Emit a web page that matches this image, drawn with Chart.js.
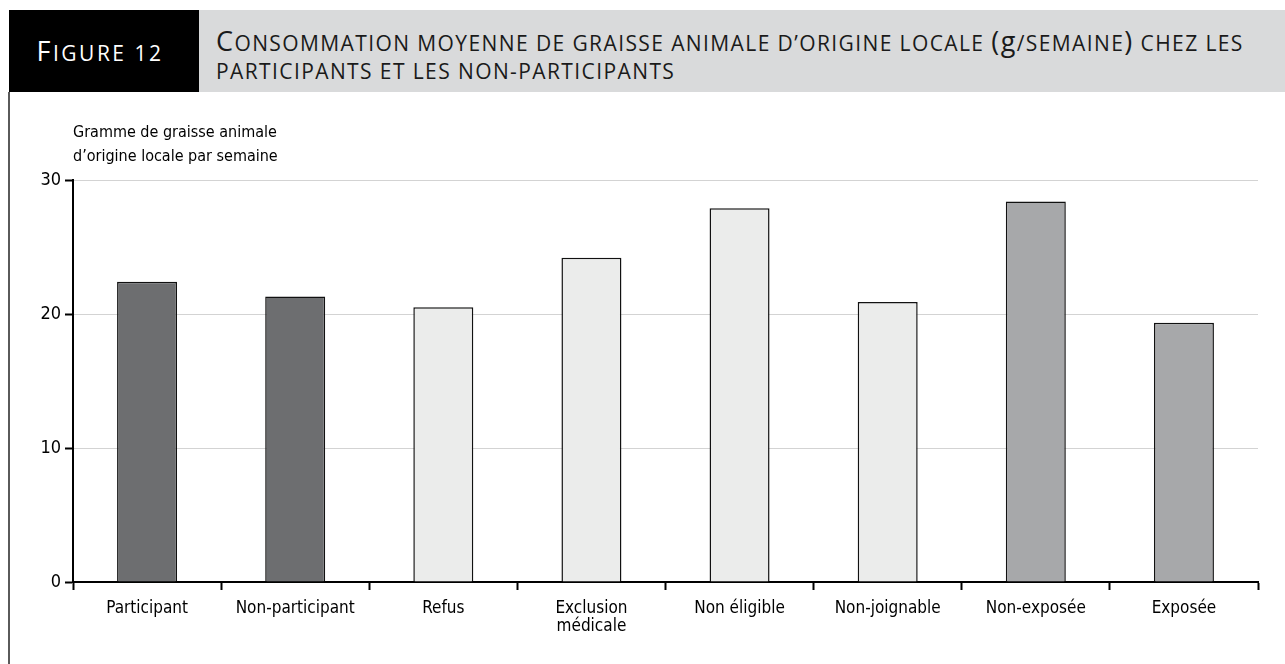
<!DOCTYPE html>
<html lang="fr">
<head>
<meta charset="utf-8">
<title>Figure 12</title>
<script src="https://cdn.jsdelivr.net/npm/chart.js@4/dist/chart.umd.min.js"></script>
<style>
  html, body { margin: 0; padding: 0; background: #fff; }
  body { width: 1285px; height: 664px; position: relative; overflow: hidden; }
  .fig-label {
    position: absolute; left: 9px; top: 10px; width: 182px; height: 82px;
    background: #000; color: #fff;
    font-family: "Open Sans", sans-serif; text-transform: uppercase;
    font-size: 21px; line-height: 82px; text-align: center; letter-spacing: 2.5px;
    white-space: nowrap; padding-right: 8px;
  }
  .fig-title {
    position: absolute; left: 199px; top: 10px; right: 0; height: 82px;
    background: #d9dadb; color: #1a1a1a;
    font-family: "Open Sans", sans-serif; text-transform: uppercase;
    font-size: 21px; line-height: 28px; letter-spacing: 1.4px;
    box-sizing: border-box; padding: 17px 20px 0 17px;
  }
  .fig-label .cap { font-size: 27px; }
  .cap { font-size: 27px; }
  .lc { text-transform: none; font-size: 27px; }
  .frame-line { position: absolute; left: 8px; top: 92px; width: 2px; bottom: 0; background: #5a5a5a; }
  #chart { position: absolute; left: 10px; top: 92px; }
</style>
</head>
<body>
<div class="fig-label"><span class="cap">F</span>igure 12</div>
<div class="fig-title"><span class="cap">C</span>onsommation moyenne de graisse animale d’origine locale <span class="lc">(g</span>/semaine<span class="lc">)</span> chez les participants et les non-participants</div>
<div class="frame-line"></div>
<canvas id="chart" width="1275" height="572"></canvas>
<script>
// données
const categories = ['Participant', 'Non-participant', 'Refus', ['Exclusion', 'médicale'], 'Non éligible', 'Non-joignable', 'Non-exposée', 'Exposée'];
const values = [22.4, 21.3, 20.5, 24.2, 27.9, 20.9, 28.4, 19.35];
const barColors = ['#6d6e70', '#6d6e70', '#ebeceb', '#ebeceb', '#ebeceb', '#ebeceb', '#a7a8aa', '#a7a8aa'];
const yTicks = [0, 10, 20, 30];
const yTitle = ['Gramme de graisse animale', 'd’origine locale par semaine'];

const labelFont = { family: '"DejaVu Sans Condensed", sans-serif', size: 17, weight: 'normal' };

new Chart(document.getElementById('chart').getContext('2d'), {
    type: 'bar',
    data: {
        labels: categories,
        datasets: [{
            data: values,
            backgroundColor: barColors,
            borderColor: '#111',
            borderWidth: 1.5,
            borderSkipped: 'bottom',
            barPercentage: 0.405,
            categoryPercentage: 1
        }]
    },
    options: {
        responsive: false,
        devicePixelRatio: 1,
        animation: false,
        layout: { padding: { left: 0, right: 27, top: 0, bottom: 0 } },
        plugins: {
            legend: { display: false },
            tooltip: { enabled: false },
            title: {
                display: true,
                text: yTitle,
                align: 'start',
                fullSize: false,
                color: '#000',
                font: { ...labelFont, size: 16, lineHeight: 1.5 },
                padding: { top: 29, bottom: 11 }
            }
        },
        scales: {
            x: {
                grid: { display: true, offset: true, drawOnChartArea: false, tickLength: 8, tickColor: '#000', tickWidth: 2 },
                border: { color: '#000', width: 2 },
                ticks: { color: '#000', font: { ...labelFont, lineHeight: 1.1 }, padding: 9, maxRotation: 0, autoSkip: false },
                afterFit: function (scale) { scale.height = 82; }
            },
            y: {
                min: 0,
                max: 30,
                afterBuildTicks: function (scale) { scale.ticks = yTicks.map(v => ({ value: v })); },
                grid: { color: '#d3d3d3', lineWidth: 1, tickLength: 8, tickColor: '#000', tickWidth: 2 },
                border: { color: '#000', width: 2 },
                ticks: { color: '#000', font: { ...labelFont, size: 18 }, padding: 4 },
                afterFit: function (scale) { scale.width = 63; }
            }
        }
    }
});
</script>
</body>
</html>
